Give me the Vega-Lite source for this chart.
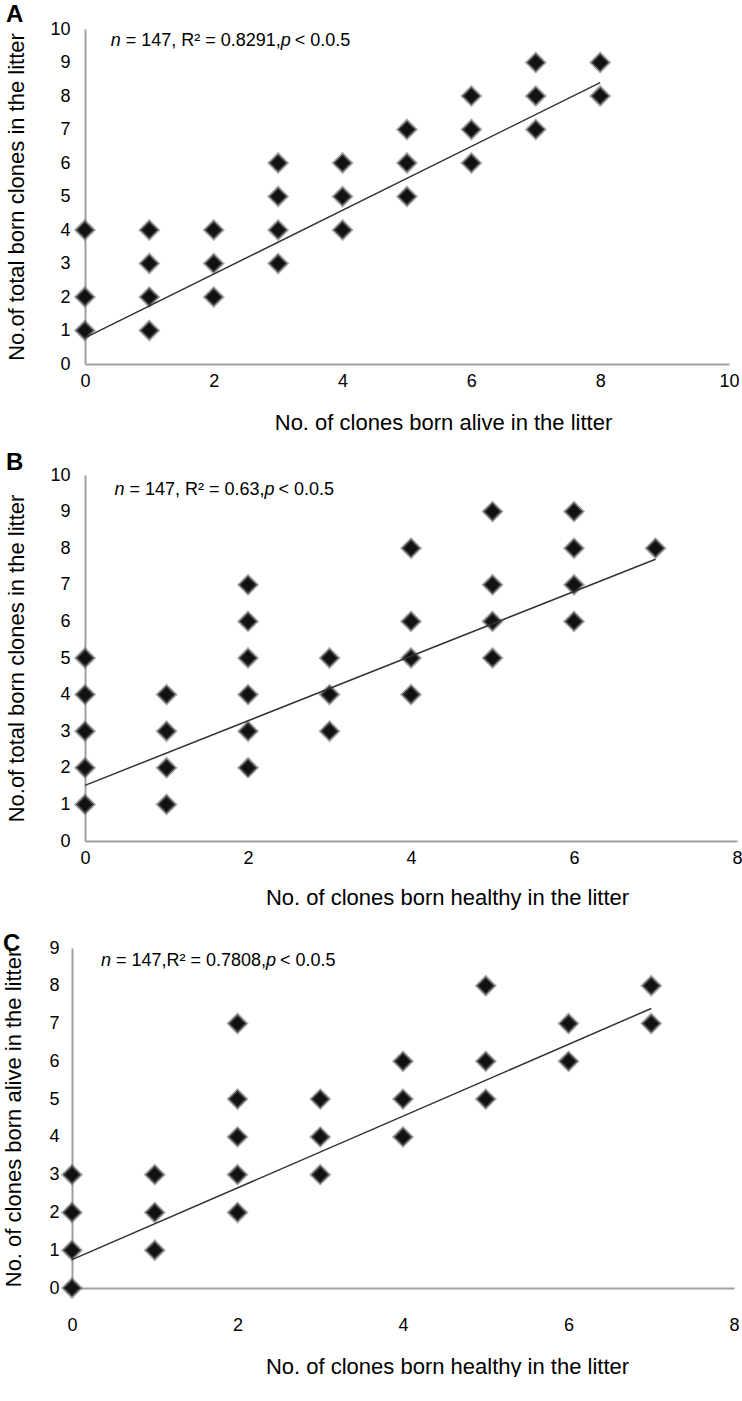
{
"$schema":"https://vega.github.io/schema/vega-lite/v6.json",
"background":"white",
"padding":{"left":2,"top":3,"right":0,"bottom":0},
"spacing":18,
"datasets":{
"a":[{"x":0,"y":1},{"x":0,"y":2},{"x":0,"y":4},{"x":1,"y":1},{"x":1,"y":2},{"x":1,"y":3},{"x":1,"y":4},{"x":2,"y":2},{"x":2,"y":3},{"x":2,"y":4},{"x":3,"y":3},{"x":3,"y":4},{"x":3,"y":5},{"x":3,"y":6},{"x":4,"y":4},{"x":4,"y":5},{"x":4,"y":6},{"x":5,"y":5},{"x":5,"y":6},{"x":5,"y":7},{"x":6,"y":6},{"x":6,"y":7},{"x":6,"y":8},{"x":7,"y":7},{"x":7,"y":8},{"x":7,"y":9},{"x":8,"y":8},{"x":8,"y":9}],
"aLine":[{"x":0,"y":0.78},{"x":8,"y":8.4}],
"b":[{"x":0,"y":1},{"x":0,"y":2},{"x":0,"y":3},{"x":0,"y":4},{"x":0,"y":5},{"x":1,"y":1},{"x":1,"y":2},{"x":1,"y":3},{"x":1,"y":4},{"x":2,"y":2},{"x":2,"y":3},{"x":2,"y":4},{"x":2,"y":5},{"x":2,"y":6},{"x":2,"y":7},{"x":3,"y":3},{"x":3,"y":4},{"x":3,"y":5},{"x":4,"y":4},{"x":4,"y":5},{"x":4,"y":6},{"x":4,"y":8},{"x":5,"y":5},{"x":5,"y":6},{"x":5,"y":7},{"x":5,"y":9},{"x":6,"y":6},{"x":6,"y":7},{"x":6,"y":8},{"x":6,"y":9},{"x":7,"y":8}],
"bLine":[{"x":0,"y":1.52},{"x":7,"y":7.7}],
"c":[{"x":0,"y":0},{"x":0,"y":1},{"x":0,"y":2},{"x":0,"y":3},{"x":1,"y":1},{"x":1,"y":2},{"x":1,"y":3},{"x":2,"y":2},{"x":2,"y":3},{"x":2,"y":4},{"x":2,"y":5},{"x":2,"y":7},{"x":3,"y":3},{"x":3,"y":4},{"x":3,"y":5},{"x":4,"y":4},{"x":4,"y":5},{"x":4,"y":6},{"x":5,"y":5},{"x":5,"y":6},{"x":5,"y":8},{"x":6,"y":6},{"x":6,"y":7},{"x":7,"y":7},{"x":7,"y":8}],
"cLine":[{"x":0,"y":0.75},{"x":7,"y":7.4}],
"one":[{}]
},
"config":{
"view":{"stroke":null},
"font":"Liberation Sans",
"title":{"font":"Liberation Sans","fontSize":24,"fontWeight":"bold","color":"#000","anchor":"start","frame":"bounds"},
"axis":{"domain":true,"domainColor":"#a0a0a0","domainWidth":2,"domainOpacity":1,"ticks":false,"grid":false,"format":"d","labelOverlap":false,"labelFont":"Liberation Sans","labelFontSize":18,"labelColor":"#000","labelFlush":false,"titleFont":"Liberation Sans","titleFontSize":22,"titleFontWeight":"normal","titleColor":"#000"}
},
"vconcat":[
{
"width":657,"height":335,
"title":{"text":"A","offset":-7},
"layer":[
{"data":{"name":"a"},"mark":{"type":"point","shape":"diamond","filled":true,"size":330,"color":"#111","stroke":"#666","strokeWidth":3,"strokeOpacity":0.55,"opacity":1},
"encoding":{
"x":{"field":"x","type":"quantitative","scale":{"domain":[-0.2,10],"nice":60},"axis":{"domain":true,"domainColor":"#a0a0a0","domainWidth":2,"domainDash":[0,13,2000],"title":"No. of clones born alive in the litter","values":[0,2,4,6,8,10],"tickCount":6,"labelPadding":8,"titlePadding":22,"titleX":371}},
"y":{"field":"y","type":"quantitative","scale":{"domain":[0,10]},"axis":{"domain":true,"domainColor":"#a0a0a0","domainWidth":2,"offset":-13,"title":"No.of total born clones in the litter","values":[0,1,2,3,4,5,6,7,8,9,10],"tickCount":11,"labelPadding":15,"titlePadding":21}}}},
{"data":{"name":"aLine"},"mark":{"type":"line","color":"#333","strokeWidth":1.5},"encoding":{"x":{"field":"x","type":"quantitative"},"y":{"field":"y","type":"quantitative"}}},
{"data":{"name":"one"},"mark":{"type":"text","align":"left","baseline":"middle","fontSize":18,"fontStyle":"italic","color":"#000"},"encoding":{"x":{"datum":0.4},"y":{"datum":9.65},"text":{"value":"n"}}},
{"data":{"name":"one"},"mark":{"type":"text","align":"left","baseline":"middle","fontSize":18,"color":"#000","dx":15},"encoding":{"x":{"datum":0.4},"y":{"datum":9.65},"text":{"value":"= 147, R² = 0.8291,"}}},
{"data":{"name":"one"},"mark":{"type":"text","align":"left","baseline":"middle","fontSize":18,"fontStyle":"italic","color":"#000","dx":170},"encoding":{"x":{"datum":0.4},"y":{"datum":9.65},"text":{"value":"p"}}},
{"data":{"name":"one"},"mark":{"type":"text","align":"left","baseline":"middle","fontSize":18,"color":"#000","dx":184},"encoding":{"x":{"datum":0.4},"y":{"datum":9.65},"text":{"value":"< 0.0.5"}}}
]
},
{
"width":665,"height":366,
"title":{"text":"B","offset":-9},
"layer":[
{"data":{"name":"b"},"mark":{"type":"point","shape":"diamond","filled":true,"size":330,"color":"#111","stroke":"#666","strokeWidth":3,"strokeOpacity":0.55,"opacity":1},
"encoding":{
"x":{"field":"x","type":"quantitative","scale":{"domain":[-0.16,8],"nice":500},"axis":{"domain":true,"domainColor":"#a0a0a0","domainWidth":2,"domainDash":[0,13,2000],"title":"No. of clones born healthy in the litter","values":[0,2,4,6,8],"tickCount":5,"labelPadding":8,"titlePadding":20,"titleX":375}},
"y":{"field":"y","type":"quantitative","scale":{"domain":[0,10]},"axis":{"domain":true,"domainColor":"#a0a0a0","domainWidth":2,"offset":-13,"title":"No.of total born clones in the litter","values":[0,1,2,3,4,5,6,7,8,9,10],"tickCount":11,"labelPadding":15,"titlePadding":21}}}},
{"data":{"name":"bLine"},"mark":{"type":"line","color":"#333","strokeWidth":1.5},"encoding":{"x":{"field":"x","type":"quantitative"},"y":{"field":"y","type":"quantitative"}}},
{"data":{"name":"one"},"mark":{"type":"text","align":"left","baseline":"middle","fontSize":18,"fontStyle":"italic","color":"#000"},"encoding":{"x":{"datum":0.36},"y":{"datum":9.6},"text":{"value":"n"}}},
{"data":{"name":"one"},"mark":{"type":"text","align":"left","baseline":"middle","fontSize":18,"color":"#000","dx":15},"encoding":{"x":{"datum":0.36},"y":{"datum":9.6},"text":{"value":"= 147, R² = 0.63,"}}},
{"data":{"name":"one"},"mark":{"type":"text","align":"left","baseline":"middle","fontSize":18,"fontStyle":"italic","color":"#000","dx":150},"encoding":{"x":{"datum":0.36},"y":{"datum":9.6},"text":{"value":"p"}}},
{"data":{"name":"one"},"mark":{"type":"text","align":"left","baseline":"middle","fontSize":18,"color":"#000","dx":164},"encoding":{"x":{"datum":0.36},"y":{"datum":9.6},"text":{"value":"< 0.0.5"}}}
]
},
{
"width":662,"height":340,
"title":{"text":["","C"],"lineHeight":6,"offset":-17},
"layer":[
{"data":{"name":"c"},"mark":{"type":"point","shape":"diamond","filled":true,"size":330,"color":"#111","stroke":"#666","strokeWidth":3,"strokeOpacity":0.55,"opacity":1},
"encoding":{
"x":{"field":"x","type":"quantitative","scale":{"domain":[0,8]},"axis":{"domain":true,"domainColor":"#a0a0a0","domainWidth":2,"title":"No. of clones born healthy in the litter","values":[0,2,4,6,8],"tickCount":5,"labelPadding":28,"titlePadding":22,"titleX":375}},
"y":{"field":"y","type":"quantitative","scale":{"domain":[0,9]},"axis":{"domain":true,"domainColor":"#a0a0a0","domainWidth":2,"title":"No. of clones born alive in the litter","values":[0,1,2,3,4,5,6,7,8,9],"tickCount":10,"labelPadding":13,"titlePadding":23}}}},
{"data":{"name":"cLine"},"mark":{"type":"line","color":"#333","strokeWidth":1.5},"encoding":{"x":{"field":"x","type":"quantitative"},"y":{"field":"y","type":"quantitative"}}},
{"data":{"name":"one"},"mark":{"type":"text","align":"left","baseline":"middle","fontSize":18,"fontStyle":"italic","color":"#000"},"encoding":{"x":{"datum":0.35},"y":{"datum":8.65},"text":{"value":"n"}}},
{"data":{"name":"one"},"mark":{"type":"text","align":"left","baseline":"middle","fontSize":18,"color":"#000","dx":15},"encoding":{"x":{"datum":0.35},"y":{"datum":8.65},"text":{"value":"= 147,R² = 0.7808,"}}},
{"data":{"name":"one"},"mark":{"type":"text","align":"left","baseline":"middle","fontSize":18,"fontStyle":"italic","color":"#000","dx":165},"encoding":{"x":{"datum":0.35},"y":{"datum":8.65},"text":{"value":"p"}}},
{"data":{"name":"one"},"mark":{"type":"text","align":"left","baseline":"middle","fontSize":18,"color":"#000","dx":179},"encoding":{"x":{"datum":0.35},"y":{"datum":8.65},"text":{"value":"< 0.0.5"}}}
]
}
]
}
